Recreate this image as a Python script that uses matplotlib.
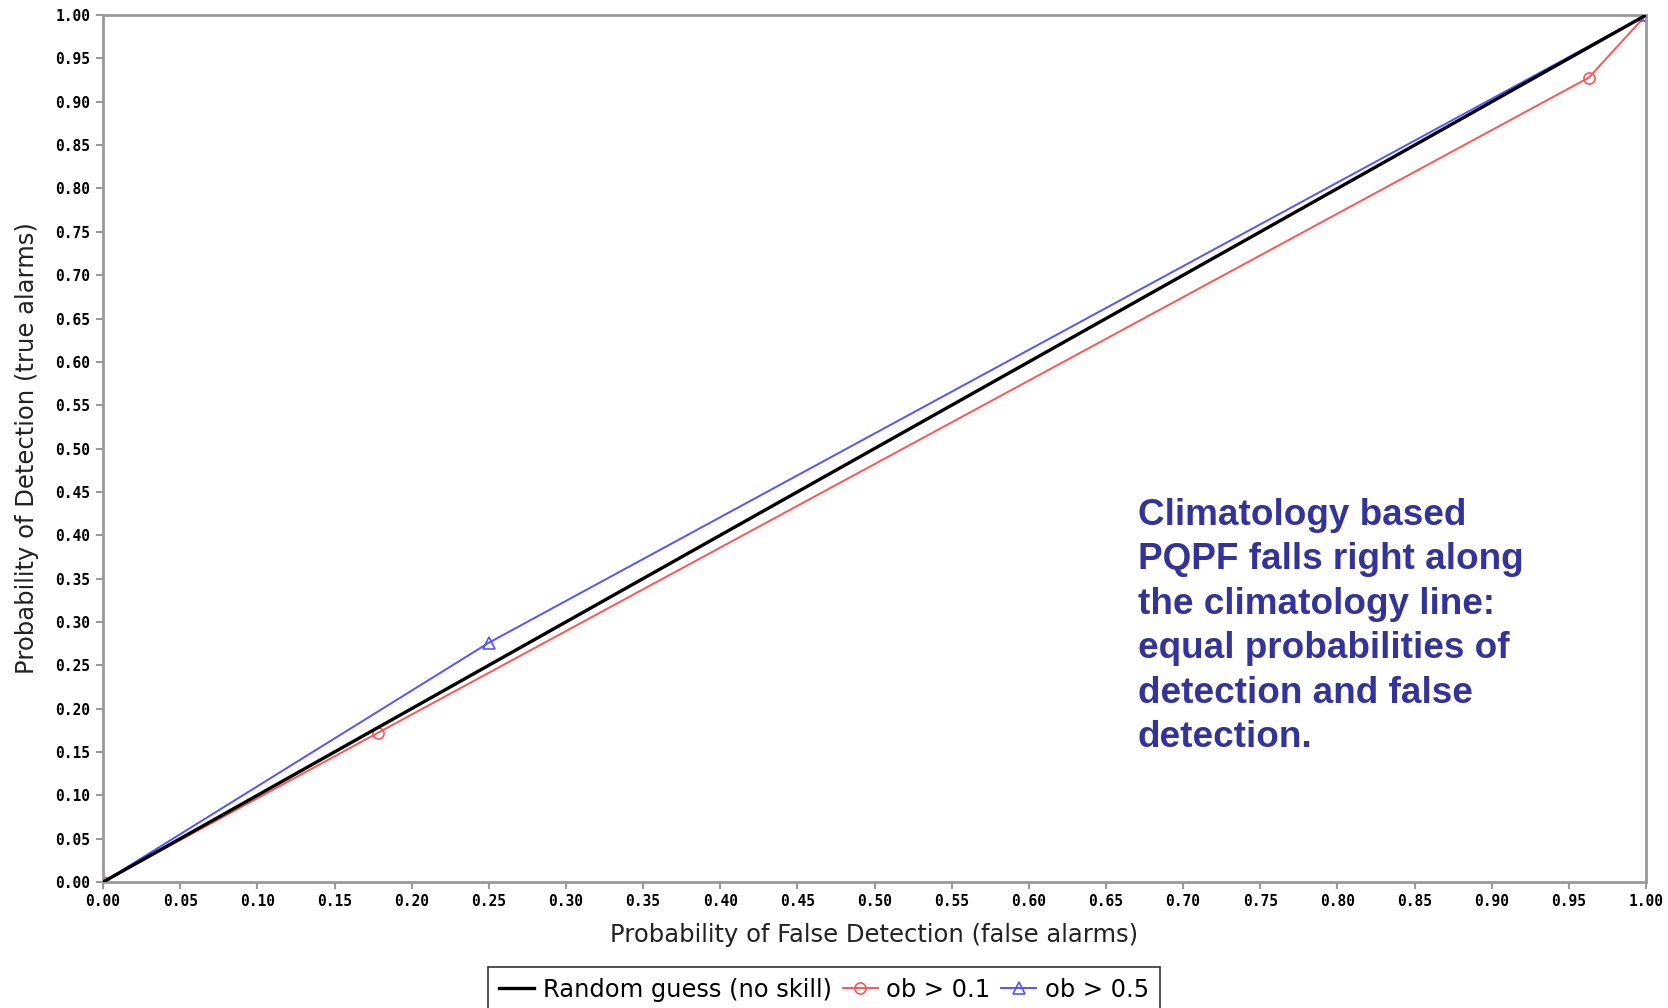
import numpy as np
import matplotlib
matplotlib.use('Agg')
import matplotlib.pyplot as plt

# ROC points
pofd_random = [0.0, 1.0]
pod_random = [0.0, 1.0]

pofd_01 = [0.0, 0.178, 0.963, 1.0]
pod_01 = [0.0, 0.172, 0.928, 1.0]

pofd_05 = [0.0, 0.25, 1.0]
pod_05 = [0.0, 0.276, 1.0]

ticks = np.arange(0, 1.0001, 0.05)
note = ("Climatology based\nPQPF falls right along\nthe climatology line:\n"
        "equal probabilities of\ndetection and false\ndetection.")

fig = plt.figure(figsize=(16.68, 10.08), dpi=100)
ax = fig.add_axes([0.0618, 0.125, 0.9250, 0.860])

ax.plot(pofd_random, pod_random, color='black', lw=2.4, label='Random guess (no skill)', zorder=3)
ax.plot(pofd_01, pod_01, color='#ff5555', lw=1.4, marker='o', mfc='none', mec='#ff5555',
        ms=8, mew=1.2, label='ob > 0.1', zorder=2)
ax.plot(pofd_05, pod_05, color='#5555ff', lw=1.4, marker='^', mfc='none', mec='#5555ff',
        ms=8, mew=1.2, label='ob > 0.5', zorder=2)

ax.set_xlim(0, 1)
ax.set_ylim(0, 1)
ax.set_xticks(ticks)
ax.set_yticks(ticks)
ax.set_xticklabels(['%.2f' % t for t in ticks], family='DejaVu Sans Mono', fontsize=10.5, fontweight='bold')
ax.set_yticklabels(['%.2f' % t for t in ticks], family='DejaVu Sans Mono', fontsize=10.5, fontweight='bold')
ax.tick_params(direction='out', length=5, width=1.5, color='#999999', pad=4)
for sp in ax.spines.values():
    sp.set_color('#999999')
    sp.set_linewidth(2)

ax.set_xlabel('Probability of False Detection (false alarms)', fontsize=17.5, color='#222222', labelpad=10)
ax.set_ylabel('Probability of Detection (true alarms)', fontsize=17.5, color='#222222', labelpad=12)

fig.text(0.682, 1 - 498 / 1008, note, color='#333399', fontsize=26.6, fontweight='bold',
         family='Liberation Sans', va='top', ha='left', linespacing=1.35)

leg = fig.legend(loc='upper center', bbox_to_anchor=(0.494, 1 - 967 / 1008), ncol=3,
                 fontsize=17.4, frameon=True, fancybox=False, handlelength=1.45,
                 handletextpad=0.35, columnspacing=0.45, borderpad=0.45, borderaxespad=0)
leg.get_frame().set_edgecolor('black')
leg.get_frame().set_linewidth(1.2)

fig.savefig('out.png', dpi=100)
